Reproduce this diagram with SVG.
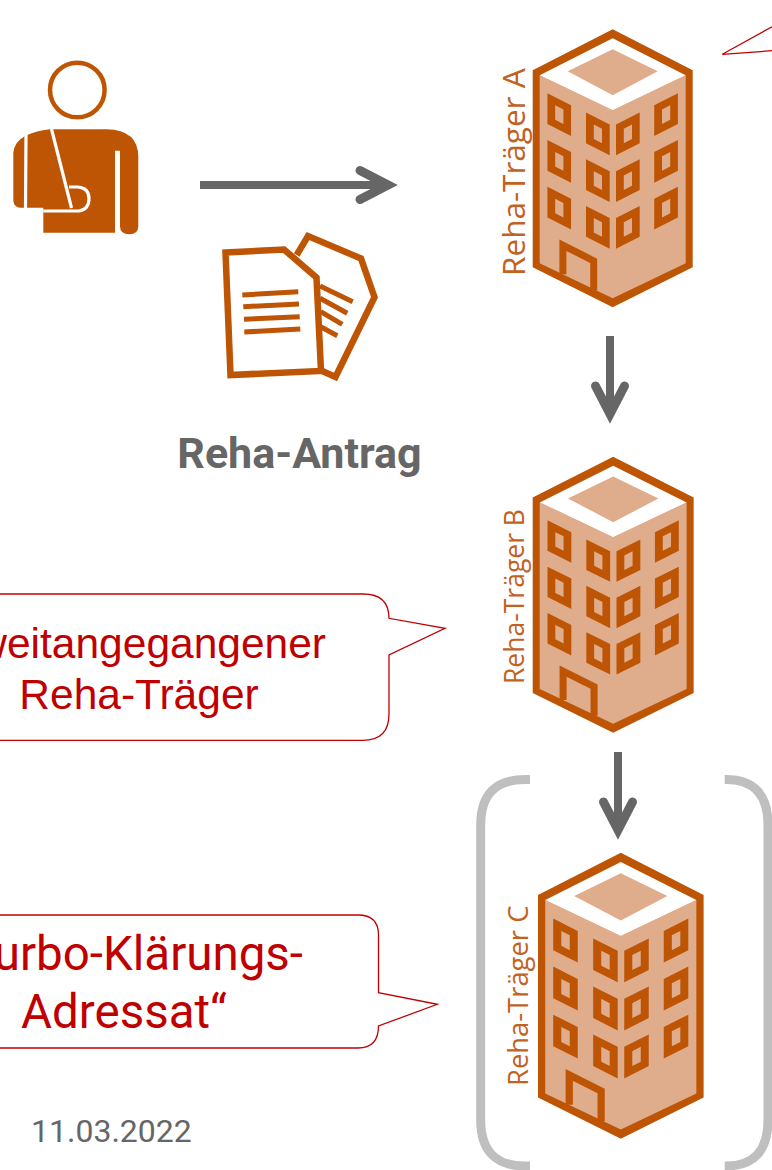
<svg xmlns="http://www.w3.org/2000/svg" width="772" height="1170" viewBox="0 0 772 1170">
<style>
.o{fill:#BE5504}
.ol{fill:none;stroke:#BE5504}
.lab{font-family:"Open Sans","Noto Sans",sans-serif;fill:#C2621F}
.call{fill:#fff;stroke:#C00000;stroke-width:1.3}
.ct{font-family:"Liberation Sans",Arial,sans-serif;font-size:42.500px;fill:#C00000;text-anchor:middle}
.cr{font-family:Roboto,sans-serif;font-size:47.500px;fill:#C00000}
.conn{fill:none;stroke:#666;stroke-width:8;marker-end:url(#head)}
.br{fill:none;stroke:#BFBFBF;stroke-width:9}
</style>
<defs>
<marker id="head" markerUnits="userSpaceOnUse" markerWidth="60" markerHeight="60" viewBox="0 0 60 60" refX="38" refY="30" orient="auto">
<path d="M10,15.500 L38,30 L10,44.500" fill="none" stroke="#666" stroke-width="9" stroke-linecap="round"/>
</marker>
<g id="win"><path class="o" fill-rule="evenodd" d="M0,0 L23.700,12 V42.700 L0,30.700 Z M7.800,12 V26.500 L16,30.700 V16.200 Z"/></g>
<g id="winr"><path class="o" fill-rule="evenodd" d="M23.700,0 L0,12 V42.700 L23.700,30.700 Z M16,12 V26.500 L7.800,30.700 V16.200 Z"/></g>
<g id="tower">
<path class="o" d="M80,0 L160,41 V238 L80,278 L0,238 V41 Z"/>
<path fill="#E0AD8C" d="M7,46 L80,81 L153,46 V234 L80,269 L7,234 Z"/>
<path fill="#fff" d="M80,9 L153,46 L80,81 L7,46 Z"/>
<path fill="#E0AD8C" d="M80,20 L125,42 L80,66 L35,42 Z"/>
<use href="#win" x="14.700" y="64"/><use href="#win" x="53.300" y="83.300"/><use href="#winr" x="83.300" y="83.300"/><use href="#winr" x="121.500" y="64"/>
<use href="#win" x="14.700" y="110.700"/><use href="#win" x="53.300" y="130"/><use href="#winr" x="83.300" y="130"/><use href="#winr" x="121.500" y="110.700"/>
<use href="#win" x="14.700" y="157.400"/><use href="#win" x="53.300" y="176.700"/><use href="#winr" x="83.300" y="176.700"/><use href="#winr" x="121.500" y="157.400"/>
<path class="ol" stroke-width="7" stroke-linejoin="miter" d="M30.200,245 V216 L61,231.500 V261"/>
</g>
</defs>

<g id="patient">
<circle cx="77.300" cy="90" r="27.300" fill="#fff" stroke="#BE5504" stroke-width="4.500"/>
<path class="o" d="M13.300,153 Q14,142 25,136 Q35,131 50,129.300 H106.700 Q138.300,130 138.300,157 V226 Q138.300,234.300 129.300,234.300 Q120,234.300 120,226 V150.700 H115 V232.700 H43.300 V207.700 H20 Q13.300,207 13.300,200 Z"/>
<path fill="none" stroke="#fff" stroke-width="3.200" d="M26,134 L25.500,208 M51.500,129 L71.500,208"/>
<path fill="none" stroke="#fff" stroke-width="3.200" d="M43.300,211 H79 Q89,209.500 89,198.500 Q89,188 78,187 H69"/>
</g>

<g id="antrag">
<path fill="#fff" stroke="#BE5504" stroke-width="6.500" d="M296.700,255 L308,236 L361,258.500 L374.500,297.300 L335.500,377 L320,370"/>
<path fill="none" stroke="#BE5504" stroke-width="5" d="M320,286 L352.700,301.700 M320,298.300 L347.300,313.300 M320.700,311.700 L342.300,324.300 M320.700,326.700 L337.300,335.700"/>
<path fill="#fff" stroke="#BE5504" stroke-width="6.500" d="M225.500,252.500 L284,249.500 L316.500,277.500 L321,371 L230.500,375 Z"/>
<path fill="none" stroke="#BE5504" stroke-width="5" d="M242.300,295 L298.300,291.700 M243.300,306.700 L299,304 M244,319.300 L299.700,316.700 M244.300,332 L300.300,329"/>
<text x="299.500" y="468" font-family="Roboto,sans-serif" font-weight="700" font-size="43" fill="#666" text-anchor="middle">Reha-Antrag</text>
</g>

<g id="traeger-a">
<use href="#tower" transform="translate(532.700,29.300)"/>
<text class="lab" transform="translate(525,276) rotate(-90)" font-size="31.500">Reha-Träger A</text>
</g>
<g id="traeger-b">
<use href="#tower" transform="translate(532.700,456.700) scale(1.006,0.993)"/>
<text class="lab" transform="translate(524,684) rotate(-90)" font-size="26.500">Reha-Träger B</text>
</g>
<g id="traeger-c">
<use href="#tower" transform="translate(538,852.700) scale(1.035,1.029)"/>
<text class="lab" transform="translate(528,1086) rotate(-90)" font-size="27.400">Reha-Träger C</text>
</g>

<g id="klammer">
<path class="br" d="M530,779.500 H525 Q480.700,779.500 480.700,825 V1120 Q480.700,1166 525,1166 H530"/>
<path class="br" d="M724.700,779.500 H726 Q768,779.500 768,825 V1120 Q768,1166 726,1166 H724.700"/>
</g>

<g id="connectors">
<path class="conn" d="M200,185 H388"/>
<path class="conn" d="M610,336 V414"/>
<path class="conn" d="M618,752 V830"/>
</g>

<g id="callout-a"><path class="call" d="M772,26.700 L722.300,54.300 L772,50.700"/></g>
<g id="callout-b">
<path class="call" d="M-20,594 H363 Q389,594 389,618.300 L445,628.300 L389,655 V714 Q389,740.300 363,740.300 H-20 Z"/>
<text class="ct" x="326" y="658" style="text-anchor:end">weitangegangener</text>
<text class="ct" x="139" y="709">Reha-Träger</text>
</g>
<g id="callout-c">
<path class="call" d="M-20,915 H358 Q378.500,915 378.500,935 V992.700 L437.300,1004.300 L378.500,1026 Q378.500,1048 358,1048 H-20 Z"/>
<text class="cr" x="303" y="970" text-anchor="end">urbo-Klärungs-</text>
<text class="cr" x="124" y="1028" text-anchor="middle">Adressat“</text>
</g>
<text id="datum" x="31" y="1142" font-family="Roboto,sans-serif" font-size="32" fill="#666">11.03.2022</text>
</svg>
